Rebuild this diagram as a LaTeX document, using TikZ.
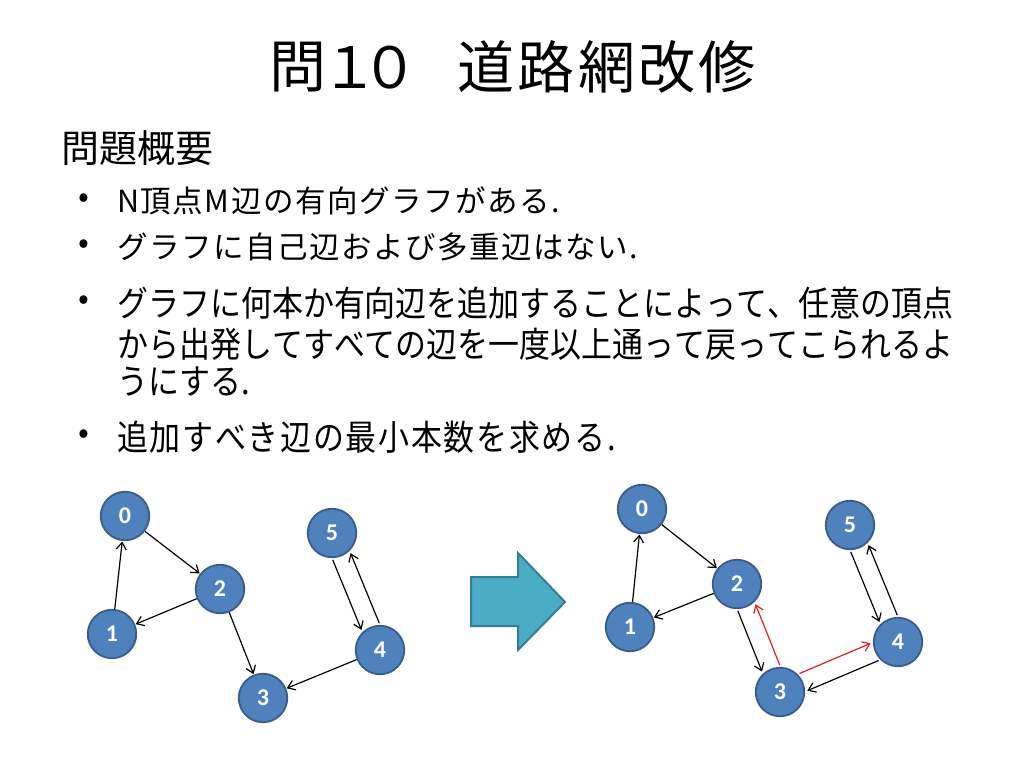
\documentclass[tikz,border=0pt]{standalone}
\usepackage{fontspec}
\setmainfont{Noto Sans CJK JP}[Kerning=Off]
\newfontfamily\titlefont{Noto Sans CJK JP}[Kerning=Off, LetterSpace=6]
\newfontfamily\bodyfont{Noto Sans CJK JP}[Kerning=Off, LetterSpace=5]
\newfontfamily\widefont{Noto Sans CJK JP}[Kerning=Off, LetterSpace=5.5]
\newfontfamily\numfont{Carlito}
\usetikzlibrary{arrows.meta,calc}
\definecolor{nodeblue}{HTML}{4F81BD}
\definecolor{nodeborder}{HTML}{385D8A}
\definecolor{arrowfill}{HTML}{4BACC6}
\definecolor{arrowborder}{HTML}{357D91}
\definecolor{addred}{HTML}{E02020}
\tikzset{
  vtx/.style={circle, fill=nodeblue, draw=nodeborder, line width=1.8pt, minimum size=48.5pt, inner sep=0pt, text=white, font=\numfont\bfseries\fontsize{24}{24}\selectfont},
  edge/.style={-{Straight Barb[length=7pt,width=10pt]}, line width=1.2pt, black, shorten >=0.5pt},
  redge/.style={edge, draw=addred},
  titletext/.style={anchor=center, inner sep=0pt, font=\fontsize{57}{60}\selectfont},
  titlerest/.style={anchor=west, inner sep=0pt, font=\titlefont\fontsize{57}{60}\selectfont},
  headtext/.style={anchor=west, inner sep=0pt, font=\fontsize{38}{40}\selectfont},
  bodytext/.style={anchor=west, inner sep=0pt, font=\bodyfont\fontsize{30.5}{34}\selectfont},
  tallbody/.style={anchor=west, inner sep=0pt, font=\fontsize{35}{38}\selectfont, xscale=0.885},
  tallwide/.style={tallbody, font=\widefont\fontsize{35}{38}\selectfont},
  bulletdot/.style={anchor=center, inner sep=0pt, font=\fontsize{32}{34}\selectfont}
}
\begin{document}
\begin{tikzpicture}[x=1pt,y=-1pt]
\useasboundingbox[fill=white] (0,0) rectangle (1024,768);

% title
\node[titletext] (ttlq) at (298,67) {問};
\node[titletext] (ttl1) at (350,68) {１};
\node[titletext] (ttl0) at (390,68) {０};
\node[titlerest] (ttlr) at (457,67) {道路網改修};
\node[headtext] (head) at (61,148) {問題概要};

% bullets
\node[bulletdot] (b1) at (84,201) {•};
\node[bodytext] (t1) at (117,201) {N頂点M辺の有向グラフがある.};
\node[bulletdot] (b2) at (84,247) {•};
\node[bodytext] (t2) at (117,247) {グラフに自己辺および多重辺はない.};
\node[bulletdot] (b3) at (84,303) {•};
\node[tallbody] (t3a) at (117,303) {グラフに何本か有向辺を追加することによって、任意の頂点};
\node[tallbody] (t3b) at (117,344) {から出発してすべての辺を一度以上通って戻ってこられるよ};
\node[tallbody] (t3c) at (117,382) {うにする.};
\node[bulletdot] (b4) at (84,437) {•};
\node[tallwide] (t4) at (117,437) {追加すべき辺の最小本数を求める.};

% left graph
\node[vtx] (a0) at (125,516) {0};
\node[vtx] (a1) at (112,634) {1};
\node[vtx] (a2) at (220,589) {2};
\node[vtx] (a3) at (263,698) {3};
\node[vtx] (a4) at (380,650) {4};
\node[vtx] (a5) at (332,533) {5};
\draw[edge] (a0) -- (a2);
\draw[edge] (a2) -- (a1);
\draw[edge] (a1) -- (a0);
\draw[edge] (a2) -- (a3);
\draw[edge] (a4) -- (a3);
\draw[edge, transform canvas={xshift=-8.8pt, yshift=-3.6pt}] (a5) -- (a4);
\draw[edge, transform canvas={xshift=8.8pt, yshift=3.6pt}] (a4) -- (a5);

% big arrow
\draw[fill=arrowfill, draw=arrowborder, line width=2pt, line join=miter]
  (471,577) -- (518,577) -- (518,553) -- (565,602) -- (518,650) -- (518,626) -- (471,626) -- cycle;

% right graph
\node[vtx] (b0) at (642,509) {0};
\node[vtx] (b1n) at (630,627) {1};
\node[vtx] (b2n) at (737,584) {2};
\node[vtx] (b3n) at (780,692) {3};
\node[vtx] (b4n) at (898,642) {4};
\node[vtx] (b5n) at (850,525) {5};
\draw[edge] (b0) -- (b2n);
\draw[edge] (b2n) -- (b1n);
\draw[edge] (b1n) -- (b0);
\draw[edge, transform canvas={xshift=-8.5pt, yshift=-3.4pt}] (b2n) -- (b3n);
\draw[redge, transform canvas={xshift=9pt, yshift=3.6pt}] (b3n) -- (b2n);
\draw[redge, transform canvas={xshift=-3.7pt, yshift=8.7pt}] (b3n) -- (b4n);
\draw[edge, transform canvas={xshift=3.7pt, yshift=-8.7pt}] (b4n) -- (b3n);
\draw[edge, transform canvas={xshift=-8.8pt, yshift=-3.6pt}] (b5n) -- (b4n);
\draw[edge, transform canvas={xshift=8.8pt, yshift=3.6pt}] (b4n) -- (b5n);
\end{tikzpicture}
\end{document}
